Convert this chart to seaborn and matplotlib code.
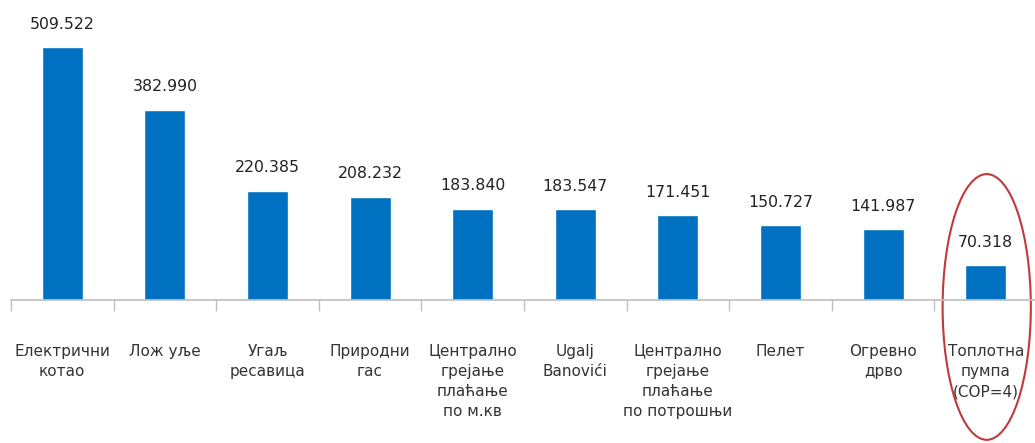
import matplotlib
matplotlib.use("Agg")
import matplotlib.pyplot as plt
import seaborn as sns
import pandas as pd
from matplotlib.patches import Ellipse
from matplotlib.ticker import FixedLocator

categories = ["Електрични\nкотао", "Лож уље", "Угаљ\nресавица", "Природни\nгас",
              "Централно\nгрејање\nплаћање\nпо м.кв", "Ugalj\nBanovići",
              "Централно\nгрејање\nплаћање\nпо потрошњи", "Пелет", "Огревно\nдрво",
              "Топлотна\nпумпа\n(COP=4)"]
values = [509.522, 382.990, 220.385, 208.232, 183.840, 183.547, 171.451, 150.727, 141.987, 70.318]
value_labels = ["509.522", "382.990", "220.385", "208.232", "183.840", "183.547",
                "171.451", "150.727", "141.987", "70.318"]

sns.set_style("white")
plt.rcParams['font.family'] = ['DejaVu Sans']

df = pd.DataFrame({"cat": categories, "val": values})

fig = plt.figure(figsize=(10.35, 4.43), dpi=100)
ax = fig.add_axes([11/1035, 143/443, 1026/1035, 300/443])
sns.barplot(data=df, x="cat", y="val", color="#0070C0", width=0.4, ax=ax, saturation=1)

ax.set_xlim(-0.5, 9.5)
ax.set_ylim(0, 604)
ax.set_xlabel("")
ax.set_ylabel("")
ax.set_yticks([])
for s in ["top", "right", "left"]:
    ax.spines[s].set_visible(False)
ax.spines["bottom"].set_color("#BFBFBF")
ax.spines["bottom"].set_linewidth(1.2)

ax.tick_params(axis="x", which="major", length=0, pad=32, labelsize=11, labelcolor="#333333")
for t in ax.get_xticklabels():
    t.set_linespacing(1.41)
    t.set_verticalalignment("top")
ax.xaxis.set_minor_locator(FixedLocator([i - 0.5 for i in range(11)]))
ax.tick_params(axis="x", which="minor", length=8, width=1.0, color="#BFBFBF", bottom=True)

for i, (v, lab) in enumerate(zip(values, value_labels)):
    ax.annotate(lab, (i, v), xytext=(0, 11), textcoords="offset points",
                ha="center", va="bottom", fontsize=11.3, color="#222222")

ell = Ellipse((9.01, -14), 0.86, 535, fill=False, edgecolor="#C0393B", linewidth=1.5,
              clip_on=False, transform=ax.transData)
ax.add_patch(ell)

fig.savefig("out.png", dpi=100)
